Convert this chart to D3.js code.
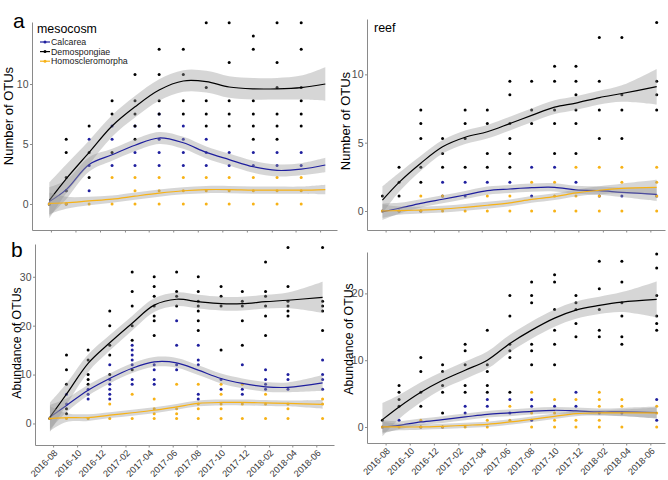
<!DOCTYPE html>
<html>
<head>
<meta charset="utf-8">
<script src="https://cdn.jsdelivr.net/npm/d3@7/dist/d3.min.js"></script>
<style>
  body { margin: 0; background: #fff; }
  svg { font-family: "Liberation Sans", Arial, sans-serif; }
</style>
</head>
<body>
<svg width="668" height="480"></svg>
<script>
// taxa, in legend order
const taxa = ["Calcarea", "Demospongiae", "Homoscleromorpha"];
const taxonColors = ["#1f1f9e", "#000000", "#f7b216"];

// x axis ticks (every 2 months)
const xTickDates = ["2016-08-01", "2016-10-01", "2016-12-01", "2017-02-01", "2017-04-01", "2017-06-01",
  "2017-08-01", "2017-10-01", "2017-12-01", "2018-02-01", "2018-04-01", "2018-06-01"];

// sampling dates
const mesoNumDates = ["2016-07-28", "2016-09-08", "2016-11-04", "2016-12-31", "2017-02-26", "2017-04-27",
  "2017-06-26", "2017-08-22", "2017-10-18", "2017-12-17", "2018-02-14", "2018-04-15", "2018-06-14"];
const sampleDates = ["2016-07-24", "2016-09-04", "2016-10-29", "2016-12-23", "2017-02-18", "2017-04-15",
  "2017-06-11", "2017-08-05", "2017-10-02", "2017-11-25", "2018-01-23", "2018-03-21", "2018-06-17"];

// ---- a, mesocosm: number of OTUs (one list per sampling date)
const mesoNumCalcarea = [[0], [1.1, 0], [5.4, 3.2, 1.1], [6.5, 5.4, 3.2], [6.5, 4.3, 3.2], [7.5, 6.5, 5.4, 4.3, 3.2],
  [6.5, 5.4, 4.3, 3.2], [5.4, 4.3, 3.2], [4.3, 3.2], [4.3, 3.2], [4.3, 3.2], [4.3, 3.2], []];
const mesoNumDemo = [[0], [5.4, 4.3, 2.2, 1.1], [6.5, 4.3, 2.2], [8.6, 7.5, 4.3], [10.8, 8.6, 7.5, 6.5, 5.4],
  [12.9, 10.8, 8.6, 7.5, 6.5], [12.9, 10.8, 8.6, 7.5], [15.1, 9.7, 8.6, 7.5, 6.5], [15.1, 11.8, 8.6, 7.5, 6.5],
  [14, 12.9, 8.6, 7.5, 6.5, 5.4], [15.1, 11.8, 9.7, 7.5, 6.5, 5.4], [15.1, 12.9, 9.7, 8.6, 7.5, 6.5], []];
const mesoNumHomo = [[0], [0], [0], [2.2, 0], [2.2, 1.1, 0], [2.2, 1.1, 0], [2.2, 1.1, 0], [2.2, 1.1, 0],
  [2.2, 1.1, 0], [2.2, 1.1, 0], [2.2, 1.1, 0], [2.2, 1.1, 0], []];
const mesoNumFit = [
  [0.2, 1.2, 3.3, 4.1, 4.9, 5.5, 5.1, 4.3, 3.7, 3.1, 2.8, 2.9, 3.25],
  [0.3, 2.1, 4.3, 6.5, 8.1, 9.5, 10.25, 10.2, 9.75, 9.6, 9.6, 9.7, 10.0],
  [0.05, 0.1, 0.25, 0.4, 0.65, 0.9, 1.1, 1.2, 1.2, 1.15, 1.15, 1.15, 1.2]];
const mesoNumSe = [
  [1.2, 0.8, 0.6, 0.5, 0.5, 0.5, 0.5, 0.5, 0.5, 0.5, 0.5, 0.5, 0.6],
  [1.5, 1.2, 1.0, 0.9, 0.9, 0.9, 0.9, 0.9, 0.9, 0.9, 0.9, 1.0, 1.4],
  [0.9, 0.5, 0.35, 0.3, 0.3, 0.3, 0.3, 0.3, 0.3, 0.3, 0.3, 0.3, 0.4]];

// ---- reef: number of OTUs
const reefNumCalcarea = [[0], [0], [0], [2.1, 1.1], [2.1, 1.1], [2.1], [2.1], [3.2, 1.1], [3.2], [2.1], [1.1], [1.1], [1.1]];
const reefNumDemo = [[1.1], [3.2, 2.1, 1.1], [7.4, 6.4, 5.3, 3.2, 2.1], [5.3, 4.2, 3.2], [7.4, 6.4, 5.3, 3.2],
  [7.4, 6.4, 4.2, 3.2], [9.5, 8.5, 6.4, 5.3, 4.2, 3.2], [9.5, 7.4, 6.4], [10.6, 9.5, 7.4, 6.4, 4.2],
  [10.6, 9.5, 8.5, 7.4, 6.4, 4.2], [12.7, 9.5, 7.4, 5.3], [12.7, 8.5, 7.4, 5.3], [13.8, 9.5, 8.5, 7.4]];
const reefNumHomo = [[0], [0], [1.1, 0], [1.1, 0], [0], [1.1, 0], [1.1, 0], [2.1, 0], [2.1, 1.1, 0],
  [3.2, 1.1, 0], [3.2, 1.1, 0], [3.2, 2.1, 0], [3.2, 2.1, 1.1, 0]];
const reefNumFit = [
  [-0.05, 0.2, 0.56, 0.86, 1.17, 1.49, 1.61, 1.71, 1.73, 1.54, 1.49, 1.37, 1.22],
  [0.8, 2.1, 3.5, 4.7, 5.4, 5.8, 6.4, 7.0, 7.6, 7.9, 8.3, 8.6, 9.1],
  [0, 0.03, 0.07, 0.14, 0.27, 0.42, 0.6, 0.85, 1.05, 1.32, 1.52, 1.65, 1.73]];
const reefNumSe = [
  [0.6, 0.4, 0.3, 0.3, 0.3, 0.3, 0.3, 0.3, 0.3, 0.3, 0.3, 0.35, 0.5],
  [1.0, 0.7, 0.55, 0.5, 0.5, 0.5, 0.5, 0.5, 0.5, 0.5, 0.5, 0.6, 1.3],
  [0.5, 0.3, 0.25, 0.25, 0.25, 0.25, 0.25, 0.25, 0.25, 0.25, 0.3, 0.35, 0.55]];

// ---- b, mesocosm: abundance of OTUs
const mesoAbuCalcarea = [[1], [6, 4], [7, 6, 5], [12, 9, 8, 7, 6, 5], [16, 15, 14, 13, 12, 9, 8], [12, 11, 9, 8],
  [21, 16, 12, 11], [16, 13, 12, 6, 5], [9, 7], [12, 7, 6], [11, 9, 8, 7], [10, 9, 7], [13, 10, 9, 7]];
const mesoAbuDemo = [[1], [14, 11, 8, 3, 2], [15, 13, 10, 9, 8], [23, 20, 16, 14, 10], [31, 27, 24, 20, 17, 11],
  [30, 28, 26, 24, 22, 21, 18], [31, 27, 26, 24], [30, 27, 25, 24, 23, 21, 19], [28, 26, 24, 15],
  [27, 25, 24, 21, 16], [33, 27, 26, 24, 22, 18], [36, 28, 25, 24, 23, 22], [36, 25, 24, 23, 19]];
const mesoAbuHomo = [[1], [1], [1], [4, 1], [6, 1], [5, 3, 2, 1], [8, 3, 2, 1], [8, 4, 3, 1], [8, 6, 4, 3, 1],
  [8, 4, 1], [6, 4, 1], [4, 3, 1], [5, 4, 1]];
const mesoAbuFit = [
  [1.3, 3.7, 6.8, 9.2, 11.3, 12.6, 12.4, 10.9, 9.2, 8.2, 7.5, 7.4, 8.3],
  [1.3, 6.0, 12.3, 16.5, 20.5, 24.2, 25.4, 24.9, 24.5, 24.5, 24.9, 25.2, 25.8],
  [1.0, 1.2, 1.2, 1.7, 2.2, 2.7, 3.4, 4.1, 4.3, 4.3, 4.2, 4.1, 3.9]];
const mesoAbuSe = [
  [2.5, 1.4, 1.1, 1.0, 1.0, 1.0, 1.0, 1.0, 1.0, 1.0, 1.0, 1.0, 1.6],
  [3.0, 2.2, 1.8, 1.6, 1.5, 1.4, 1.4, 1.4, 1.4, 1.4, 1.4, 1.6, 3.2],
  [2.5, 0.9, 0.7, 0.6, 0.6, 0.6, 0.6, 0.6, 0.6, 0.6, 0.6, 0.6, 0.9]];

// ---- reef: abundance of OTUs
const reefAbuCalcarea = [[0], [1], [0], [0], [3.1, 2.1], [4.1, 3.1], [4.1, 2.1], [4.1, 3.1, 1], [3.1], [5.2, 3.1],
  [2.1], [2.1], [4.1, 1]];
const reefAbuDemo = [[1], [6.2, 5.2, 4.1, 3.1], [10.4, 8.3, 5.2, 3.1], [9.3, 8.3, 6.2, 5.2, 2.1],
  [12.4, 11.4, 9.3, 6.2, 5.2], [14.5, 9.3, 8.3, 6.2, 5.2], [19.7, 16.6, 12.4, 11.4, 10.4, 5.2],
  [21.7, 19.7, 18.6, 12.4, 11.4, 9.3], [22.8, 21.7, 17.6, 14.5, 12.4, 9.3], [19.7, 18.6, 17.6, 15.5, 13.5],
  [24.8, 20.7, 17.6, 14.5, 13.5], [24.8, 21.7, 18.6, 16.6, 13.5, 12.4], [25.9, 23.8, 19.7, 16.6, 15.5, 14.5]];
const reefAbuHomo = [[0], [0], [1, 0], [0], [0], [1, 0], [3.1, 1], [5.2, 2.1, 0], [4.1, 2.1, 1, 0], [4.1, 1, 0],
  [5.2, 4.1, 3.1, 1, 0], [4.1, 3.1, 0], [3.1, 2.1, 0]];
const reefAbuFit = [
  [0, 0.25, 0.75, 1.1, 1.5, 1.9, 2.1, 2.35, 2.5, 2.4, 2.25, 2.25, 2.15],
  [1.1, 3.0, 5.2, 7.0, 8.5, 10.0, 12.5, 14.5, 16.3, 17.5, 18.2, 18.7, 19.1],
  [0, 0, 0, 0.1, 0.25, 0.4, 0.75, 1.15, 1.6, 2.0, 2.1, 2.1, 2.1]];
const reefAbuSe = [
  [1.0, 0.6, 0.5, 0.5, 0.5, 0.5, 0.5, 0.5, 0.5, 0.5, 0.5, 0.6, 0.9],
  [2.5, 1.8, 1.5, 1.3, 1.3, 1.3, 1.3, 1.3, 1.3, 1.3, 1.3, 1.5, 2.7],
  [0.8, 0.5, 0.4, 0.4, 0.4, 0.4, 0.4, 0.4, 0.4, 0.4, 0.4, 0.5, 0.8]];

const parseDate = d3.timeParse("%Y-%m-%d");
const svg = d3.select("svg");
const axisGrey = "#8a8a8a";

const drawPanel = (cfg) => {
  const dates = cfg.dates.map(parseDate);
  const x = d3.scaleTime().domain(cfg.xDomain.map(parseDate)).range([cfg.left, cfg.right]);
  const y = d3.scaleLinear().domain(cfg.yDomain).range([cfg.bottom, cfg.top]);
  const g = svg.append("g");

  // points
  cfg.points.forEach((cols, t) => {
    const pts = [];
    cols.forEach((vals, i) => vals.forEach((v) => pts.push([dates[i], v])));
    g.append("g")
      .selectAll("circle")
      .data(pts)
      .enter()
      .append("circle")
      .attr("cx", (d) => x(d[0]))
      .attr("cy", (d) => y(d[1]))
      .attr("r", 1.5)
      .attr("fill", taxonColors[t]);
  });

  // smooth + ribbon, one group after the other
  cfg.fits.forEach((fit, t) => {
    const se = cfg.se[t];
    const area = d3.area()
      .x((d, i) => x(dates[i]))
      .y0((d, i) => y(d - se[i]))
      .y1((d, i) => y(d + se[i]))
      .curve(d3.curveCatmullRom);
    const line = d3.line()
      .x((d, i) => x(dates[i]))
      .y((d) => y(d))
      .curve(d3.curveCatmullRom);
    g.append("path").attr("d", area(fit)).attr("fill", "#999999").attr("fill-opacity", 0.4);
    g.append("path").attr("d", line(fit)).attr("fill", "none")
      .attr("stroke", taxonColors[t]).attr("stroke-width", 1.2);
  });

  // axes
  const xAxis = g.append("g")
    .attr("transform", `translate(0,${cfg.bottom})`)
    .call(d3.axisBottom(x)
      .tickValues(xTickDates.map(parseDate))
      .tickSize(2.5)
      .tickSizeOuter(0)
      .tickFormat(cfg.xLabels ? d3.timeFormat("%Y-%m") : () => ""));
  xAxis.selectAll("text")
    .attr("x", 0)
    .attr("y", 0)
    .attr("dy", "0.71em")
    .attr("transform", "translate(0,4) rotate(-45)")
    .style("text-anchor", "end")
    .style("font-size", "9.2px")
    .attr("fill", "#333");

  const yAxis = g.append("g")
    .attr("transform", `translate(${cfg.left},0)`)
    .call(d3.axisLeft(y).tickValues(cfg.yTicks).tickSize(2).tickPadding(1.5).tickSizeOuter(0));
  yAxis.selectAll("text").style("font-size", "10.5px").attr("fill", "#4d4d4d");

  [xAxis, yAxis].forEach((a) => {
    a.select(".domain").attr("stroke", axisGrey);
    a.selectAll(".tick line").attr("stroke", axisGrey);
  });

  // y title
  svg.append("text")
    .attr("transform", `translate(${cfg.titleX},${cfg.titleY}) rotate(-90)`)
    .attr("text-anchor", "middle")
    .style("font-size", cfg.titleSize)
    .text(cfg.yTitle);
};

drawPanel({
  left: 32, right: 337, top: 22, bottom: 230,
  xDomain: ["2016-06-15", "2018-07-13"], yDomain: [-2.17, 15.17], yTicks: [0, 5, 10],
  dates: mesoNumDates, points: [mesoNumCalcarea, mesoNumDemo, mesoNumHomo],
  fits: mesoNumFit, se: mesoNumSe, xLabels: false,
  yTitle: "Number of OTUs", titleX: 13, titleY: 116, titleSize: "13px"
});
drawPanel({
  left: 367, right: 665, top: 19, bottom: 230,
  xDomain: ["2016-06-15", "2018-07-08"], yDomain: [-1.39, 14.05], yTicks: [0, 5, 10],
  dates: sampleDates, points: [reefNumCalcarea, reefNumDemo, reefNumHomo],
  fits: reefNumFit, se: reefNumSe, xLabels: false,
  yTitle: "Number of OTUs", titleX: 350, titleY: 121, titleSize: "13px"
});
drawPanel({
  left: 35, right: 334, top: 244, bottom: 445,
  xDomain: ["2016-06-16", "2018-07-16"], yDomain: [-4.4, 36.7], yTicks: [0, 10, 20, 30],
  dates: sampleDates, points: [mesoAbuCalcarea, mesoAbuDemo, mesoAbuHomo],
  fits: mesoAbuFit, se: mesoAbuSe, xLabels: true,
  yTitle: "Abundance of OTUs", titleX: 21, titleY: 343, titleSize: "12.3px"
});
drawPanel({
  left: 367, right: 665, top: 252, bottom: 443,
  xDomain: ["2016-06-15", "2018-07-08"], yDomain: [-2.4, 26.2], yTicks: [0, 10, 20],
  dates: sampleDates, points: [reefAbuCalcarea, reefAbuDemo, reefAbuHomo],
  fits: reefAbuFit, se: reefAbuSe, xLabels: true,
  yTitle: "Abundance of OTUs", titleX: 353, titleY: 339, titleSize: "12.3px"
});

// panel letters and site titles
svg.append("text").attr("x", 13).attr("y", 28).style("font-size", "21px").text("a");
svg.append("text").attr("x", 11).attr("y", 257).style("font-size", "21px").text("b");
svg.append("text").attr("x", 374).attr("y", 32).style("font-size", "12.5px").text("reef");

// legend (mesocosm)
const legend = svg.append("g").attr("transform", "translate(36,21)");
legend.append("rect").attr("x", 0).attr("y", 0).attr("width", 94).attr("height", 45).attr("fill", "#fff");
legend.append("text").attr("x", 1).attr("y", 12).style("font-size", "12.4px").text("mesocosm");
const items = legend.selectAll(".item")
  .data(taxa)
  .enter()
  .append("g")
  .attr("class", "item")
  .attr("transform", (d, i) => `translate(0,${21 + i * 9.6})`);
items.append("line").attr("x1", 4).attr("x2", 14)
  .attr("stroke", (d, i) => taxonColors[i]).attr("stroke-width", 1.2);
items.append("circle").attr("cx", 9).attr("r", 1.5).attr("fill", (d, i) => taxonColors[i]);
items.append("text").attr("x", 15).attr("dy", "0.35em").style("font-size", "8.8px").attr("fill", "#222")
  .text((d) => d);
</script>
</body>
</html>
